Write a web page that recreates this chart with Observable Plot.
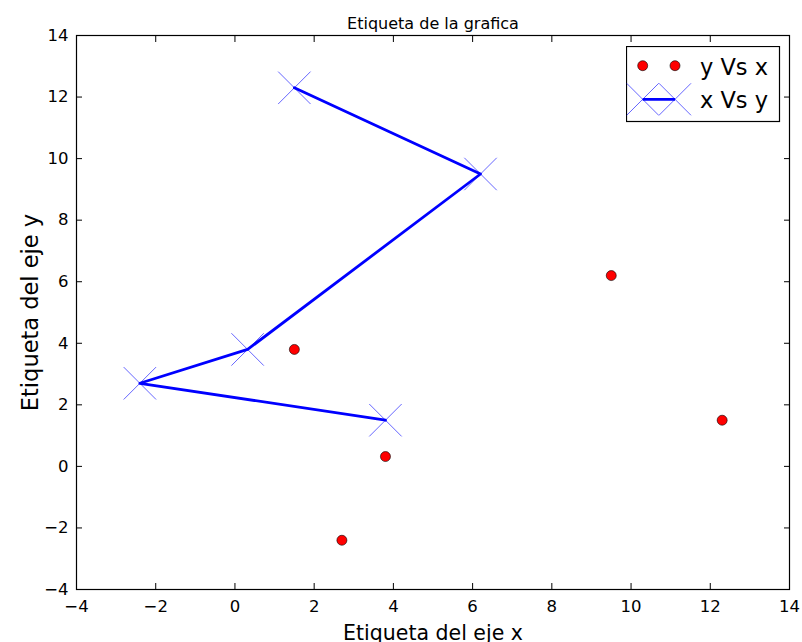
<!DOCTYPE html>
<html>
<head>
<meta charset="utf-8">
<script src="https://cdn.jsdelivr.net/npm/d3@7"></script>
<script src="https://cdn.jsdelivr.net/npm/@observablehq/plot@0.6"></script>
<style>
  html, body { margin: 0; padding: 0; background: white; }
  #wrap { position: relative; width: 802px; height: 642px; font-family: "DejaVu Sans", sans-serif; }
  #legend { position: absolute; left: 626px; top: 46px; }
</style>
</head>
<body>
<div id="wrap"></div>
<script>
// ---- data ----
const xTicks = [-4, -2, 0, 2, 4, 6, 8, 10, 12, 14];
const yTicks = [-4, -2, 0, 2, 4, 6, 8, 10, 12, 14];
const seriesX = [12.3, 9.5, 3.8, 2.7, 1.5];
const seriesY = [1.5, 6.2, 0.32, -2.4, 3.8];
const titleText = "Etiqueta de la grafica";
const xLabel = "Etiqueta del eje x";
const yLabel = "Etiqueta del eje y";
const legendLabels = ["y Vs x", "x Vs y"];

// y vs x (red dots) and x vs y (blue line)
const yVsX = seriesX.map((x, i) => ({x, y: seriesY[i]}));
const xVsY = seriesX.map((x, i) => ({x: seriesY[i], y: x}));

const fmt = d => d < 0 ? "\u2212" + Math.abs(d) : String(d);

const chart = Plot.plot({
  width: 802,
  height: 642,
  marginLeft: 76,
  marginRight: 13,
  marginTop: 35,
  marginBottom: 53,
  style: {fontFamily: "DejaVu Sans", fontSize: "16.5px", background: "white", color: "black"},
  x: {domain: [-4, 14]},
  y: {domain: [-4, 14]},
  marks: [
    Plot.line(xVsY, {x: "x", y: "y", stroke: "#0000ff", strokeWidth: 2.8}),
    Plot.dot(xVsY, {x: "x", y: "y", symbol: "times", r: 14.8, stroke: "#0000ff", strokeWidth: 1, strokeOpacity: 0.6}),
    Plot.dot(yVsX, {x: "x", y: "y", r: 5, fill: "#ff0000", stroke: "black", strokeWidth: 0.6}),
    Plot.frame({stroke: "black", strokeWidth: 1.2}),
    // inward ticks on all four sides
    Plot.axisX(xTicks, {anchor: "bottom", tickSize: -6, fill: "none", label: null}),
    Plot.axisX(xTicks, {anchor: "top", tickSize: -6, fill: "none", label: null}),
    Plot.axisY(yTicks, {anchor: "left", tickSize: -6, fill: "none", label: null}),
    Plot.axisY(yTicks, {anchor: "right", tickSize: -6, fill: "none", label: null}),
    // tick labels
    Plot.axisX(xTicks, {anchor: "bottom", tickSize: 0, tickPadding: 11, tickFormat: fmt, label: null, fontSize: 16.5}),
    Plot.axisY(yTicks, {anchor: "left", tickSize: 0, tickPadding: 8, tickFormat: fmt, label: null, fontSize: 16.5}),
    // titles
    Plot.text([titleText], {frameAnchor: "top", dy: -12, fontSize: 16, lineAnchor: "middle"}),
    Plot.text([xLabel], {frameAnchor: "bottom", dy: 44, fontSize: 20.5, lineAnchor: "middle"}),
    Plot.text([yLabel], {frameAnchor: "left", dx: -46, rotate: -90, fontSize: 22.5, lineAnchor: "middle", textAnchor: "middle"})
  ]
});

const wrap = document.getElementById("wrap");
wrap.appendChild(chart);

// legend
const lg = d3.create("svg").attr("id", "legend").attr("width", 155).attr("height", 77)
  .style("font-family", "DejaVu Sans").style("font-size", "22.5px");
lg.append("rect").attr("x", 0.5).attr("y", 0.5).attr("width", 153).attr("height", 75)
  .attr("fill", "white").attr("stroke", "black").attr("stroke-width", 1.2);
[16.7, 49].forEach(cx => lg.append("circle").attr("cx", cx).attr("cy", 19.7).attr("r", 5)
  .attr("fill", "#ff0000").attr("stroke", "black").attr("stroke-width", 0.6));
lg.append("line").attr("x1", 16.7).attr("x2", 49).attr("y1", 53.3).attr("y2", 53.3)
  .attr("stroke", "#0000ff").attr("stroke-width", 2.8);
[16.7, 49].forEach(cx => lg.append("path")
  .attr("d", `M${cx-16},${53.3-16}L${cx+16},${53.3+16}M${cx-16},${53.3+16}L${cx+16},${53.3-16}`)
  .attr("stroke", "#0000ff").attr("stroke-width", 1).attr("stroke-opacity", 0.6).attr("fill", "none"));
lg.append("text").attr("x", 74).attr("y", 29).text(legendLabels[0]);
lg.append("text").attr("x", 74).attr("y", 62).text(legendLabels[1]);
wrap.appendChild(lg.node());
</script>
</body>
</html>
